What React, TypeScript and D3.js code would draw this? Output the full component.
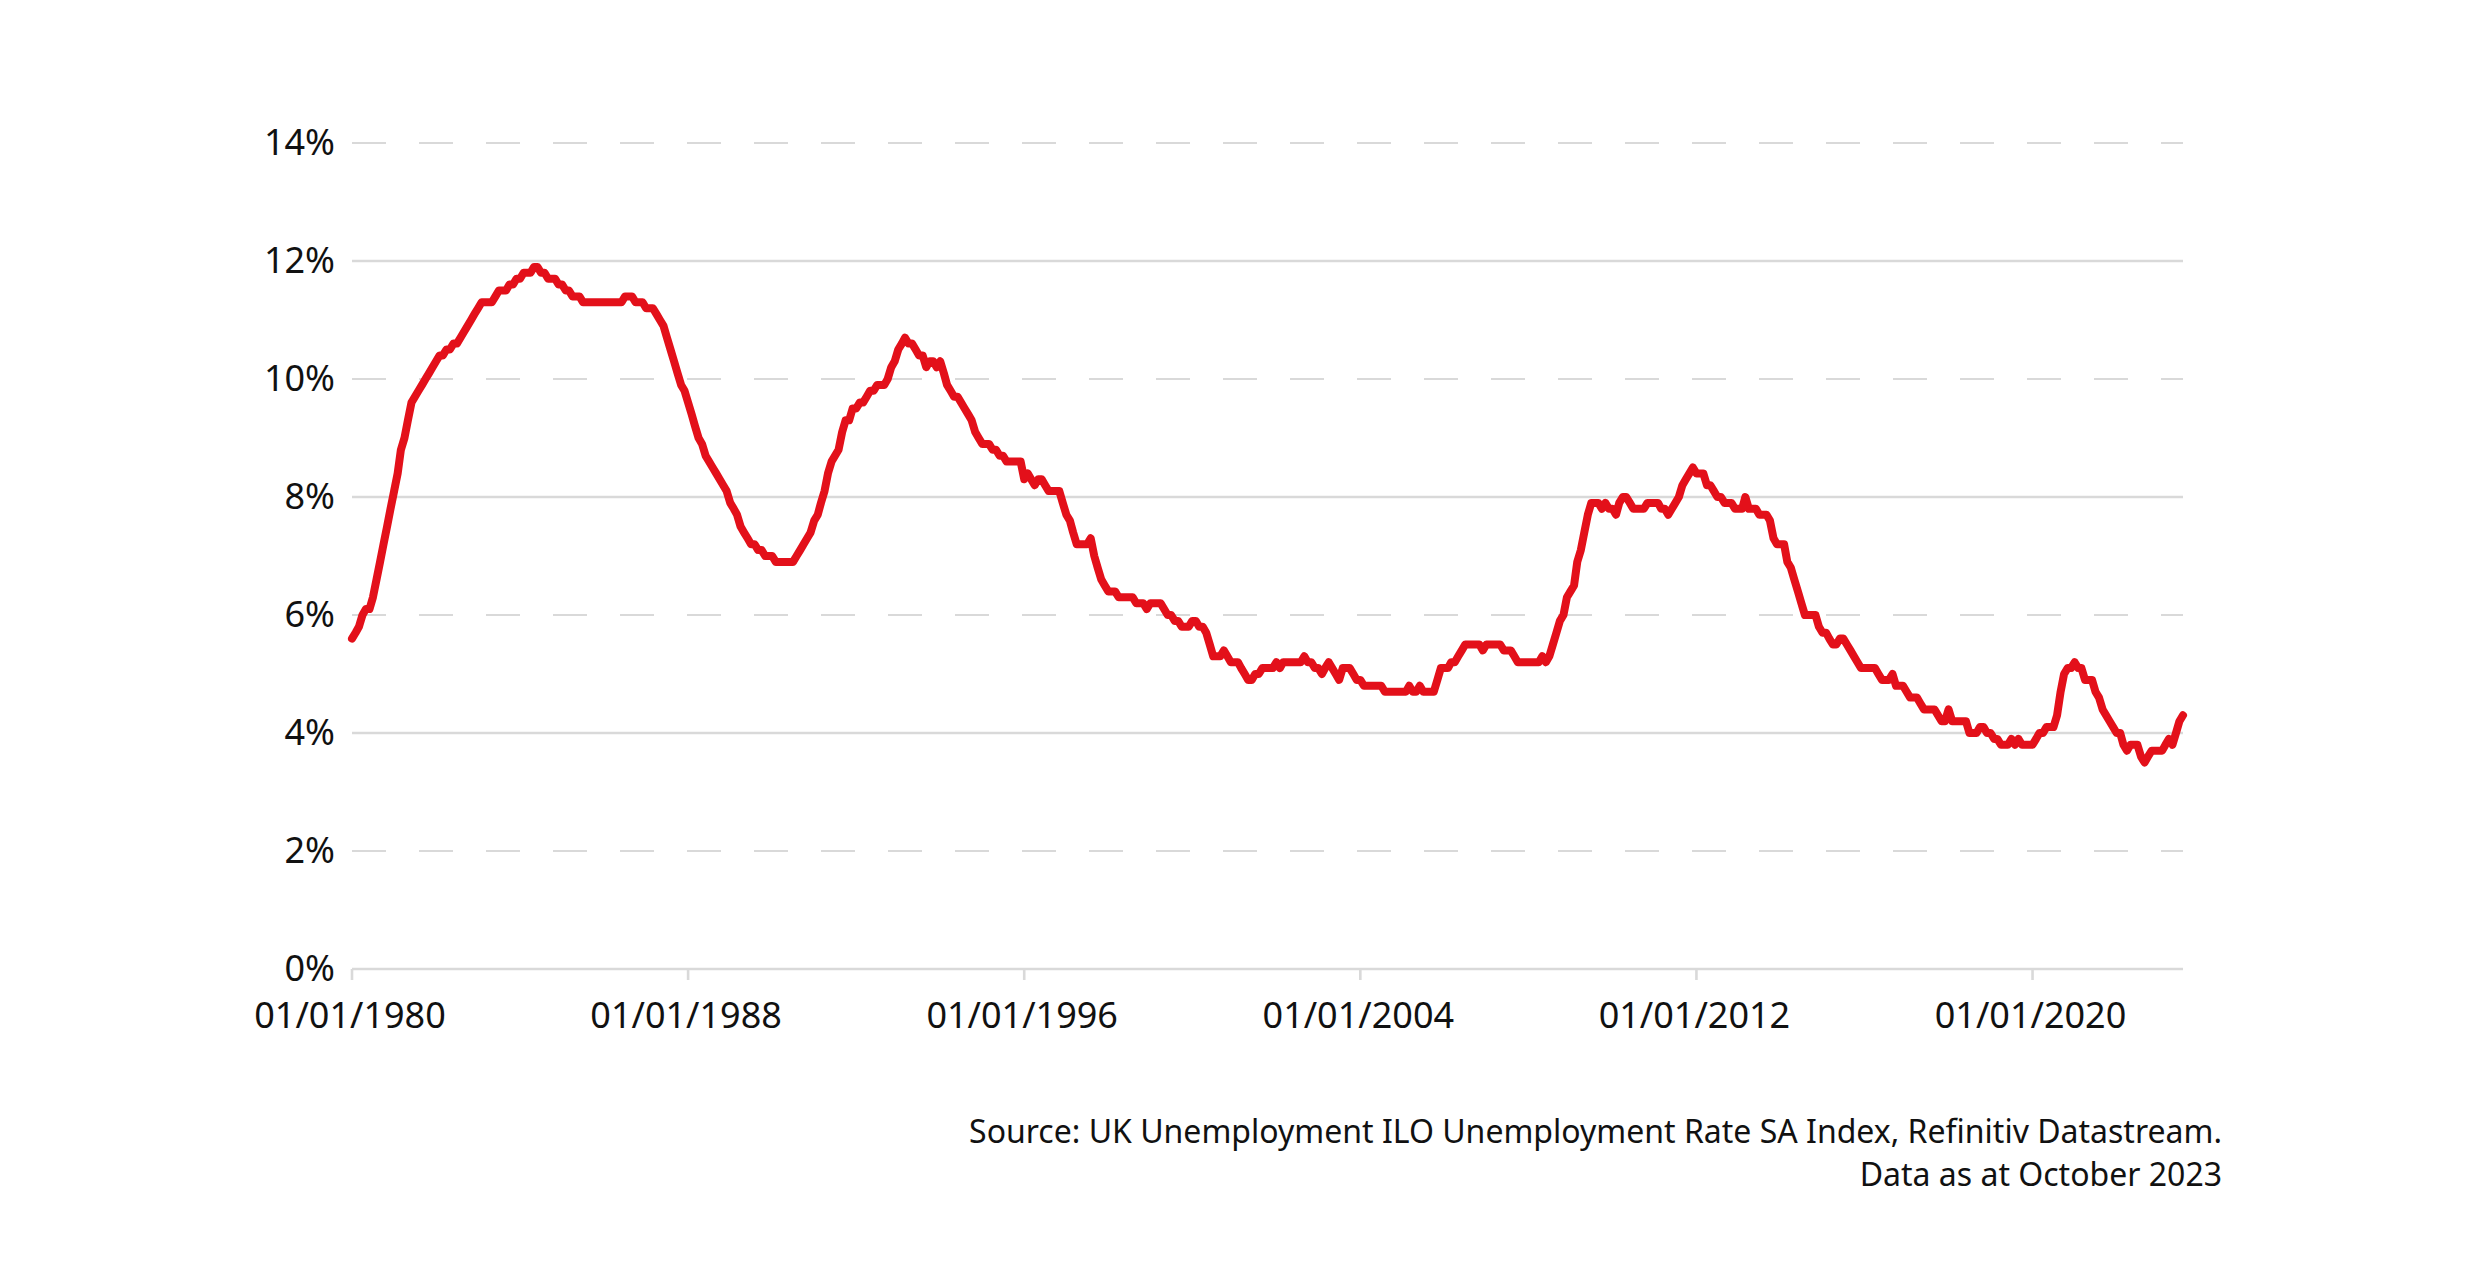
import React from "react";
import * as d3 from "d3";

// UK ILO unemployment rate (%), monthly, starting January 1980
const startYear = 1980;

const rates1980s = [
  5.6, 5.7, 5.8, 6.0, 6.1, 6.1, 6.3, 6.6, 6.9, 7.2, 7.5, 7.8,
  8.1, 8.4, 8.8, 9.0, 9.3, 9.6, 9.7, 9.8, 9.9, 10.0, 10.1, 10.2,
  10.3, 10.4, 10.4, 10.5, 10.5, 10.6, 10.6, 10.7, 10.8, 10.9, 11.0, 11.1,
  11.2, 11.3, 11.3, 11.3, 11.3, 11.4, 11.5, 11.5, 11.5, 11.6, 11.6, 11.7,
  11.7, 11.8, 11.8, 11.8, 11.9, 11.9, 11.8, 11.8, 11.7, 11.7, 11.7, 11.6,
  11.6, 11.5, 11.5, 11.4, 11.4, 11.4, 11.3, 11.3, 11.3, 11.3, 11.3, 11.3,
  11.3, 11.3, 11.3, 11.3, 11.3, 11.3, 11.4, 11.4, 11.4, 11.3, 11.3, 11.3,
  11.2, 11.2, 11.2, 11.1, 11.0, 10.9, 10.7, 10.5, 10.3, 10.1, 9.9, 9.8,
  9.6, 9.4, 9.2, 9.0, 8.9, 8.7, 8.6, 8.5, 8.4, 8.3, 8.2, 8.1,
  7.9, 7.8, 7.7, 7.5, 7.4, 7.3, 7.2, 7.2, 7.1, 7.1, 7.0, 7.0,
];

const rates1990s = [
  7.0, 6.9, 6.9, 6.9, 6.9, 6.9, 6.9, 7.0, 7.1, 7.2, 7.3, 7.4,
  7.6, 7.7, 7.9, 8.1, 8.4, 8.6, 8.7, 8.8, 9.1, 9.3, 9.3, 9.5,
  9.5, 9.6, 9.6, 9.7, 9.8, 9.8, 9.9, 9.9, 9.9, 10.0, 10.2, 10.3,
  10.5, 10.6, 10.7, 10.6, 10.6, 10.5, 10.4, 10.4, 10.2, 10.3, 10.3, 10.2,
  10.3, 10.1, 9.9, 9.8, 9.7, 9.7, 9.6, 9.5, 9.4, 9.3, 9.1, 9.0,
  8.9, 8.9, 8.9, 8.8, 8.8, 8.7, 8.7, 8.6, 8.6, 8.6, 8.6, 8.6,
  8.3, 8.4, 8.3, 8.2, 8.3, 8.3, 8.2, 8.1, 8.1, 8.1, 8.1, 7.9,
  7.7, 7.6, 7.4, 7.2, 7.2, 7.2, 7.2, 7.3, 7.0, 6.8, 6.6, 6.5,
  6.4, 6.4, 6.4, 6.3, 6.3, 6.3, 6.3, 6.3, 6.2, 6.2, 6.2, 6.1,
  6.2, 6.2, 6.2, 6.2, 6.1, 6.0, 6.0, 5.9, 5.9, 5.8, 5.8, 5.8,
];

const rates2000s = [
  5.9, 5.9, 5.8, 5.8, 5.7, 5.5, 5.3, 5.3, 5.3, 5.4, 5.3, 5.2,
  5.2, 5.2, 5.1, 5.0, 4.9, 4.9, 5.0, 5.0, 5.1, 5.1, 5.1, 5.1,
  5.2, 5.1, 5.2, 5.2, 5.2, 5.2, 5.2, 5.2, 5.3, 5.2, 5.2, 5.1,
  5.1, 5.0, 5.1, 5.2, 5.1, 5.0, 4.9, 5.1, 5.1, 5.1, 5.0, 4.9,
  4.9, 4.8, 4.8, 4.8, 4.8, 4.8, 4.8, 4.7, 4.7, 4.7, 4.7, 4.7,
  4.7, 4.7, 4.8, 4.7, 4.7, 4.8, 4.7, 4.7, 4.7, 4.7, 4.9, 5.1,
  5.1, 5.1, 5.2, 5.2, 5.3, 5.4, 5.5, 5.5, 5.5, 5.5, 5.5, 5.4,
  5.5, 5.5, 5.5, 5.5, 5.5, 5.4, 5.4, 5.4, 5.3, 5.2, 5.2, 5.2,
  5.2, 5.2, 5.2, 5.2, 5.3, 5.2, 5.3, 5.5, 5.7, 5.9, 6.0, 6.3,
  6.4, 6.5, 6.9, 7.1, 7.4, 7.7, 7.9, 7.9, 7.9, 7.8, 7.9, 7.8,
];

const rates2010s = [
  7.8, 7.7, 7.9, 8.0, 8.0, 7.9, 7.8, 7.8, 7.8, 7.8, 7.9, 7.9,
  7.9, 7.9, 7.8, 7.8, 7.7, 7.8, 7.9, 8.0, 8.2, 8.3, 8.4, 8.5,
  8.4, 8.4, 8.4, 8.2, 8.2, 8.1, 8.0, 8.0, 7.9, 7.9, 7.9, 7.8,
  7.8, 7.8, 8.0, 7.8, 7.8, 7.8, 7.7, 7.7, 7.7, 7.6, 7.3, 7.2,
  7.2, 7.2, 6.9, 6.8, 6.6, 6.4, 6.2, 6.0, 6.0, 6.0, 6.0, 5.8,
  5.7, 5.7, 5.6, 5.5, 5.5, 5.6, 5.6, 5.5, 5.4, 5.3, 5.2, 5.1,
  5.1, 5.1, 5.1, 5.1, 5.0, 4.9, 4.9, 4.9, 5.0, 4.8, 4.8, 4.8,
  4.7, 4.6, 4.6, 4.6, 4.5, 4.4, 4.4, 4.4, 4.4, 4.3, 4.2, 4.2,
  4.4, 4.2, 4.2, 4.2, 4.2, 4.2, 4.0, 4.0, 4.0, 4.1, 4.1, 4.0,
  4.0, 3.9, 3.9, 3.8, 3.8, 3.8, 3.9, 3.8, 3.9, 3.8, 3.8, 3.8,
];

const rates2020s = [
  3.8, 3.9, 4.0, 4.0, 4.1, 4.1, 4.1, 4.3, 4.7, 5.0, 5.1, 5.1,
  5.2, 5.1, 5.1, 4.9, 4.9, 4.9, 4.7, 4.6, 4.4, 4.3, 4.2, 4.1,
  4.0, 4.0, 3.8, 3.7, 3.8, 3.8, 3.8, 3.6, 3.5, 3.6, 3.7, 3.7,
  3.7, 3.7, 3.8, 3.9, 3.8, 4.0, 4.2, 4.3,
];

const yTicks = [0, 2, 4, 6, 8, 10, 12, 14];
const xTickYears = [1980, 1988, 1996, 2004, 2012, 2020];
const sourceLines = [
  "Source: UK Unemployment ILO Unemployment Rate SA Index, Refinitiv Datastream.",
  "Data as at October 2023",
];

const W = 2480;
const H = 1276;
const FONT = "'Noto Sans', 'Open Sans', sans-serif";
const RED = "#e3101a";
const GRID = "#d9d9d9";

export default function App() {
  const rates = [...rates1980s, ...rates1990s, ...rates2000s, ...rates2010s, ...rates2020s];
  const data = rates.map((v, i) => ({ date: new Date(startYear, i, 1), value: v }));

  const plot = { left: 352, right: 2183, top: 143, bottom: 969 };
  const x = d3
    .scaleTime()
    .domain(d3.extent(data, (d) => d.date) as [Date, Date])
    .range([plot.left, plot.right]);
  const y = d3.scaleLinear().domain([0, 14]).range([plot.bottom, plot.top]);

  const line = d3
    .line<{ date: Date; value: number }>()
    .x((d) => x(d.date))
    .y((d) => y(d.value));

  return (
    <svg
      width={W}
      height={H}
      viewBox={`0 0 ${W} ${H}`}
      style={{ position: "absolute", left: 0, top: 0, background: "#fff", display: "block" }}
    >
      <rect x={0} y={0} width={W} height={H} fill="#fff" />
      {/* grid lines */}
      {yTicks.map((t) => {
        const yy = y(t);
        const dashed = t % 4 !== 0;
        return (
          <line
            key={`g${t}`}
            x1={plot.left}
            x2={plot.right}
            y1={yy}
            y2={yy}
            stroke={GRID}
            strokeWidth={dashed ? 2 : 2.6}
            strokeDasharray={dashed ? "34 33" : undefined}
          />
        );
      })}
      {/* x axis ticks */}
      {xTickYears.map((yr) => {
        const xx = x(new Date(yr, 0, 1));
        return (
          <g key={`x${yr}`}>
            <line x1={xx} x2={xx} y1={plot.bottom} y2={plot.bottom + 11} stroke={GRID} strokeWidth={2.6} />
            <text
              x={xx - 2}
              y={plot.bottom + 59}
              textAnchor="middle"
              fontFamily={FONT}
              fontSize={36}
              fill="#111"
            >
              {`01/01/${yr}`}
            </text>
          </g>
        );
      })}
      {/* y labels */}
      {yTicks.map((t) => (
        <text
          key={`yl${t}`}
          x={plot.left - 17}
          y={y(t) + 12}
          textAnchor="end"
          fontFamily={FONT}
          fontSize={36}
          fill="#111"
        >
          {`${t}%`}
        </text>
      ))}
      {/* series */}
      <path
        d={line(data) || ""}
        fill="none"
        stroke={RED}
        strokeWidth={8}
        strokeLinejoin="round"
        strokeLinecap="round"
      />
      {/* source */}
      {sourceLines.map((s, i) => (
        <text
          key={`s${i}`}
          x={2222}
          y={1143 + i * 43}
          textAnchor="end"
          fontFamily={FONT}
          fontSize={32}
          fill="#111"
        >
          {s}
        </text>
      ))}
    </svg>
  );
}
